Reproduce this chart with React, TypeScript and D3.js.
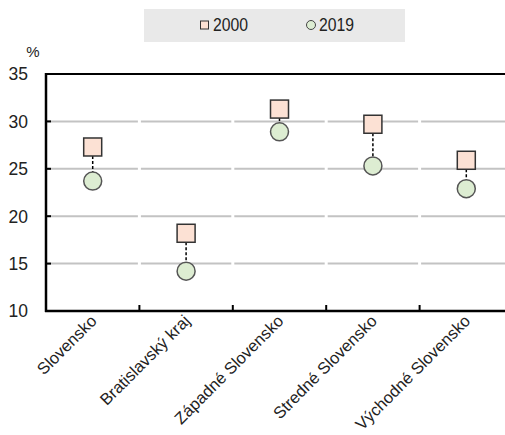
import React from "react";
import * as d3 from "d3";

const categories = ["Slovensko", "Bratislavský kraj", "Západné Slovensko", "Stredné Slovensko", "Východné Slovensko"];
const values2000 = [27.3, 18.2, 31.3, 29.7, 25.9];
const values2019 = [23.7, 14.2, 28.9, 25.3, 22.9];
const yTicks = [10, 15, 20, 25, 30, 35];
const seriesNames = ["2000", "2019"];

const FONT = "'Liberation Sans', Arial, sans-serif";

export default function App() {
  const W = 505, H = 435;
  const left = 46, right = 513, top = 74, bottom = 311;
  const x = d3.scaleBand<string>().domain(categories).range([left, right]).padding(0);
  const y = d3.scaleLinear().domain([10, 35]).range([bottom, top]);
  const bw = x.bandwidth();
  const sq = 18;
  const r = 9;

  return (
    <svg width={W} height={H} style={{ position: "absolute", left: 0, top: 0, background: "#fff" }}>
      {/* legend */}
      <rect x={144} y={9} width={261} height={33} fill="#E9E9E9" />
      <rect x={200.5} y={21} width={8} height={8} fill="#FCE1D4" stroke="#333" strokeWidth={1} />
      <text transform="translate(213,31) scale(0.9,1)" fontFamily={FONT} fontSize={17.5} fill="#222">{seriesNames[0]}</text>
      <circle cx={311} cy={25} r={4.5} fill="#DDEDD2" stroke="#444" strokeWidth={1} />
      <text transform="translate(319,31) scale(0.9,1)" fontFamily={FONT} fontSize={17.5} fill="#222">{seriesNames[1]}</text>

      {/* % unit */}
      <text x={33} y={57} textAnchor="middle" fontFamily={FONT} fontSize={15} fill="#222">%</text>

      {/* gridlines */}
      {yTicks.filter(t => t > 10 && t < 35).map(t => (
        <g key={"g" + t}>
          {categories.map(c => (
            <line key={c} x1={(x(c) as number) + 1.5} x2={(x(c) as number) + bw - 1.5} y1={y(t)} y2={y(t)} stroke="#C3C3C3" strokeWidth={2} />
          ))}
        </g>
      ))}

      {/* frame */}
      <line x1={left} x2={W} y1={top} y2={top} stroke="#000" strokeWidth={2} />
      <line x1={left} x2={left} y1={top - 1} y2={bottom + 1} stroke="#000" strokeWidth={2.5} />
      <line x1={left - 1} x2={W} y1={bottom} y2={bottom} stroke="#000" strokeWidth={2.5} />

      {/* y ticks + labels */}
      {yTicks.map(t => (
        <g key={"y" + t}>
          {t > 10 && t < 35 && <line x1={left} x2={left + 5} y1={y(t)} y2={y(t)} stroke="#000" strokeWidth={2} />}
          <text x={28} y={y(t)} dy="0.36em" textAnchor="end" fontFamily={FONT} fontSize={17.5} fill="#222">{t}</text>
        </g>
      ))}

      {/* x ticks */}
      {categories.slice(1).map(c => (
        <line key={"xt" + c} x1={x(c) as number} x2={x(c) as number} y1={bottom} y2={bottom - 6} stroke="#000" strokeWidth={2} />
      ))}

      {/* x labels */}
      {categories.map(c => {
        const cx = (x(c) as number) + bw / 2;
        return (
          <text key={"xl" + c} transform={`translate(${cx + 5},${bottom + 11}) rotate(-45)`} textAnchor="end" fontFamily={FONT} fontSize={16.5} fill="#222">{c}</text>
        );
      })}

      {/* connectors and markers */}
      {categories.map((c, i) => {
        const cx = (x(c) as number) + bw / 2;
        const y1 = y(values2000[i]);
        const y2 = y(values2019[i]);
        return (
          <g key={"m" + c}>
            <line x1={cx} x2={cx} y1={y1 + sq / 2} y2={y2 - r} stroke="#000" strokeWidth={1.5} strokeDasharray="3,2" />
            <rect x={cx - sq / 2} y={y1 - sq / 2} width={sq} height={sq} fill="#FCE1D4" stroke="#333" strokeWidth={1.5} />
            <circle cx={cx} cy={y2} r={r} fill="#DDEDD2" stroke="#555" strokeWidth={1.5} />
          </g>
        );
      })}
    </svg>
  );
}
